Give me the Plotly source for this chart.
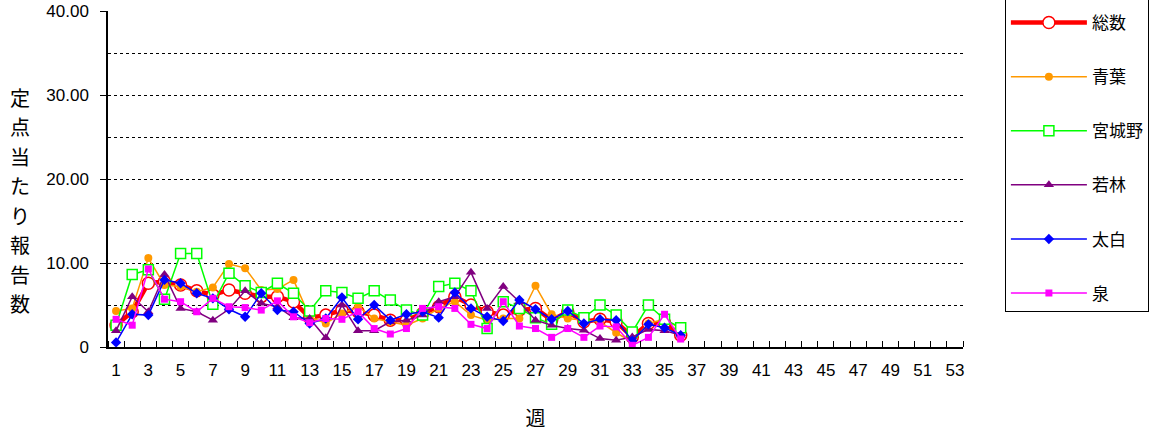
import plotly.graph_objects as go

weeks = list(range(1, 37))

total = [2.6, 4.2, 7.6, 7.8, 7.4, 6.7, 6.2, 6.8, 6.4, 6.0, 6.0, 5.4,
         3.5, 3.8, 4.4, 4.2, 3.8, 3.2, 3.2, 4.0, 4.8, 6.0, 5.0, 4.2,
         3.8, 4.4, 4.6, 3.2, 4.2, 3.0, 3.3, 3.0, 1.2, 2.8, 2.9, 1.4]
aoba = [4.3, 4.6, 10.6, 7.4, 7.2, 6.6, 7.1, 9.9, 9.4, 6.8, 6.9, 8.0,
        3.6, 2.8, 4.0, 4.8, 3.4, 3.0, 2.6, 3.4, 4.6, 5.4, 3.8, 3.2,
        3.4, 3.4, 7.3, 3.9, 3.4, 3.2, 3.0, 1.7, 0.6, 2.8, 3.3, 2.2]
miyagino = [2.6, 8.65, 9.2, 5.7, 11.15, 11.15, 5.1, 8.8, 7.3, 6.5, 7.6, 6.4,
            4.3, 6.7, 6.5, 5.8, 6.7, 5.6, 4.4, 3.8, 7.2, 7.6, 6.7, 2.2,
            5.4, 4.6, 3.5, 2.7, 4.4, 3.5, 5.0, 3.8, 1.8, 5.0, 3.3, 2.3]
wakabayashi = [1.95, 6.0, 4.2, 8.65, 4.6, 4.2, 3.2, 4.5, 6.7, 5.2, 4.8, 3.5,
               3.4, 1.1, 5.0, 1.95, 1.95, 3.0, 3.2, 3.8, 5.4, 6.0, 8.9, 4.6,
               7.2, 5.4, 3.2, 2.6, 2.2, 2.0, 1.0, 0.8, 1.2, 2.1, 1.95, 1.4]
taihaku = [0.55, 3.9, 3.8, 8.0, 7.6, 6.4, 5.8, 4.5, 3.6, 6.4, 4.4, 4.2,
           2.8, 3.4, 5.9, 3.3, 5.0, 3.2, 3.9, 4.2, 3.5, 6.5, 4.6, 3.6,
           3.1, 5.6, 4.5, 3.3, 4.3, 2.8, 3.3, 3.2, 0.75, 2.7, 2.3, 1.4]
izumi = [3.3, 2.6, 9.3, 5.7, 5.4, 4.2, 5.8, 4.8, 4.7, 4.4, 5.5, 3.6,
         2.9, 3.4, 3.3, 4.2, 2.2, 1.55, 2.2, 4.6, 4.8, 4.6, 2.7, 2.2,
         5.4, 2.5, 2.2, 1.15, 2.2, 1.15, 2.5, 2.4, 0.2, 1.15, 3.9, 0.95]

x_ticks = list(range(1, 54, 2))
x_labels = [str(v) for v in x_ticks]
y_ticks = [0, 10, 20, 30, 40]
y_labels = ["0", "10.00", "20.00", "30.00", "40.00"]
y_title_chars = list("定点当たり報告数")

series = [
    ("総数", total, dict(color="#FF0000", width=4.5),
     dict(symbol="circle", size=12, color="white", line=dict(color="#FF0000", width=1.5))),
    ("青葉", aoba, dict(color="#FF9900", width=1.5),
     dict(symbol="circle", size=8, color="#FF9900")),
    ("宮城野", miyagino, dict(color="#00FF00", width=1.5),
     dict(symbol="square", size=10, color="white", line=dict(color="#00FF00", width=1.5))),
    ("若林", wakabayashi, dict(color="#800080", width=1.5),
     dict(symbol="triangle-up", size=9, color="#800080")),
    ("太白", taihaku, dict(color="#0000FF", width=1.5),
     dict(symbol="diamond", size=8, color="#0000FF")),
    ("泉", izumi, dict(color="#FF00FF", width=1.5),
     dict(symbol="square", size=7, color="#FF00FF")),
]

fig = go.Figure()
for name, vals, line, marker in series:
    fig.add_trace(go.Scatter(x=weeks, y=vals, name=name, mode="lines+markers",
                             line=line, marker=marker, legendgroup=name))

font_main = "Liberation Sans, Arial, sans-serif"
font_cjk = "Noto Sans CJK JP, sans-serif"

fig.update_layout(
    width=1169, height=432,
    margin=dict(l=108, r=206, t=11, b=85, autoexpand=False),
    paper_bgcolor="white", plot_bgcolor="white",
    showlegend=True,
    legend=dict(
        x=1.049, y=1.075, xanchor="left", yanchor="top",
        bordercolor="black", borderwidth=1,
        font=dict(family=font_cjk, size=17, color="black"),
        tracegroupgap=29, itemwidth=76, maxheight=600,
        title=dict(text="&nbsp;", font=dict(size=14)),
    ),
    xaxis=dict(
        range=[0.5, 53.5], tickmode="array", tickvals=x_ticks, ticktext=x_labels,
        ticks="", showgrid=False, zeroline=False,
        showline=True, linecolor="black", linewidth=1.5,
        tickfont=dict(family=font_main, size=17, color="black"),
        ticklabelstandoff=7,
        minor=dict(tick0=0.5, dtick=1, ticks="inside", ticklen=6,
                   tickcolor="black", showgrid=False),
        title=dict(text="週", font=dict(family=font_cjk, size=20, color="black"), standoff=33),
    ),
    yaxis=dict(
        range=[0, 40.05], tickmode="array", tickvals=y_ticks, ticktext=y_labels,
        ticks="outside", ticklen=6, tickcolor="black", ticklabelstandoff=8,
        ticklabeloverflow="allow",
        showgrid=True, gridcolor="black", gridwidth=1, griddash="dot",
        zeroline=False, showline=True, linecolor="black", linewidth=1.5,
        tickfont=dict(family=font_main, size=17, color="black"),
        minor=dict(tick0=0, dtick=5, showgrid=True, gridcolor="black",
                   gridwidth=1, griddash="dot", ticks=""),
    ),
)

# vertical y-axis title, one glyph per line
for i, ch in enumerate(y_title_chars):
    ypix = 97 + i * 29.5
    fig.add_annotation(
        text=ch, xref="paper", yref="paper",
        x=-0.103, y=(347 - ypix) / 336, xanchor="center", yanchor="middle",
        showarrow=False, font=dict(family=font_cjk, size=20, color="black"),
    )

fig.write_html("out.html", config={"displayModeBar": False},
               post_script="document.body.style.margin='0';document.body.style.overflow='hidden';")
